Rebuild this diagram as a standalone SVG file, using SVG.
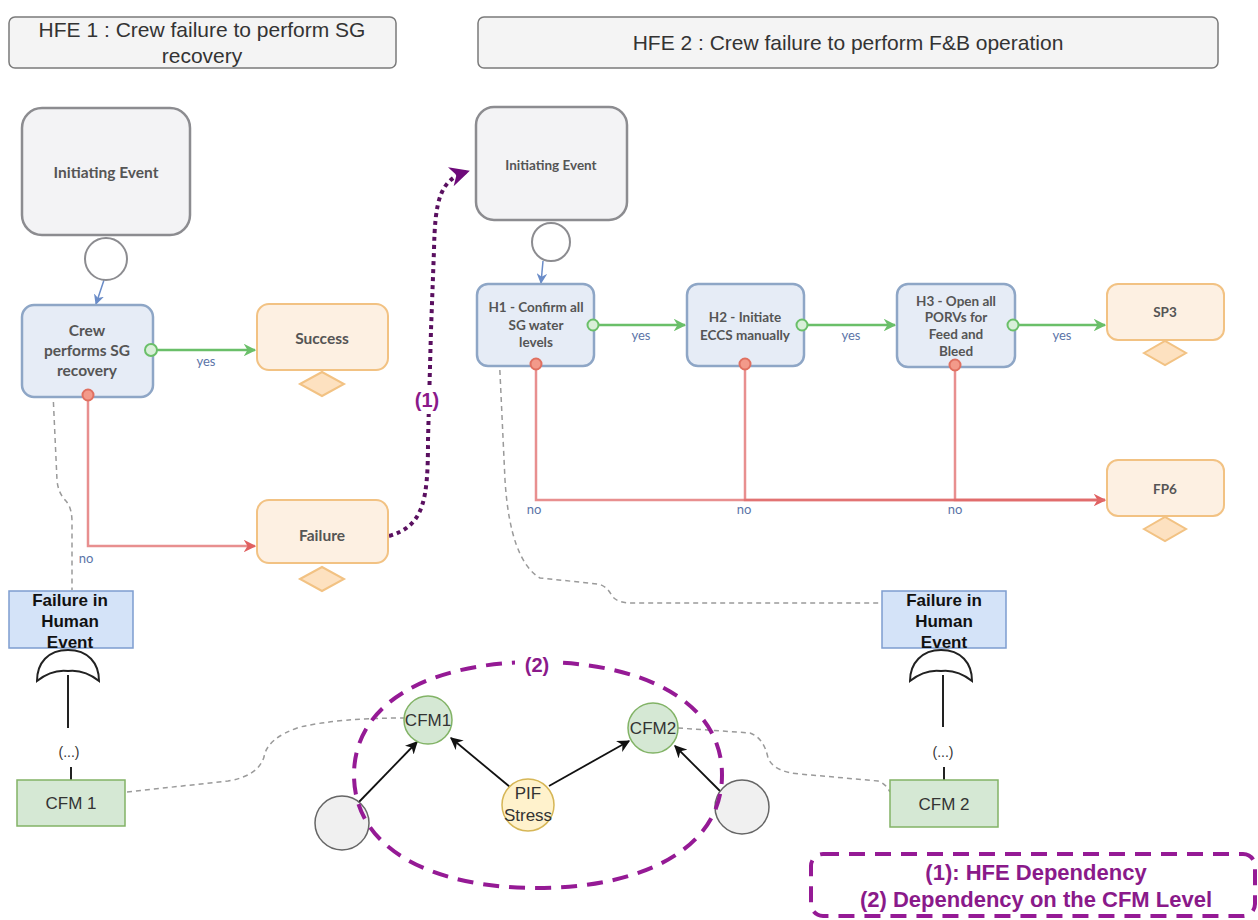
<svg xmlns="http://www.w3.org/2000/svg" width="1258" height="920" viewBox="0 0 1258 920">
  <style>
    .title { fill:#f4f4f4; stroke:#7a7a7a; stroke-width:1.5; }
    .title-t { font-family:"Liberation Sans", Arial, sans-serif; font-size:21px; fill:#333; text-anchor:middle; }
    .ie { fill:#f3f3f5; stroke:#8c8c90; stroke-width:2.5; }
    .task { fill:#e6ecf6; stroke:#8ea6c6; stroke-width:2.5; }
    .end { fill:#fdf0e2; stroke:#f2c283; stroke-width:2; }
    .dia { fill:#fde1c0; stroke:#f2c283; stroke-width:2; }
    .ring { fill:#fff; stroke:#8c8c90; stroke-width:2; }
    .et { font-family:Lato, "Open Sans", sans-serif; font-size:15.5px; font-weight:bold; fill:#555; text-anchor:middle; }
    .et13 { font-family:Lato, "Open Sans", sans-serif; font-size:13.5px; font-weight:bold; fill:#555; text-anchor:middle; }
    .lbl { font-family:Lato, "Open Sans", sans-serif; font-size:13px; fill:#5b74a8; text-anchor:middle; }
    .gport { fill:#d9efd9; stroke:#6abf69; stroke-width:2; }
    .rport { fill:#f39a8a; stroke:#e07060; stroke-width:2; }
    .yes { fill:none; stroke:#6abf69; stroke-width:2.5; }
    .no { fill:none; stroke:#e06a6a; stroke-width:2.5; stroke-opacity:0.75; }
    .blue { fill:none; stroke:#6a8cc8; stroke-width:1.5; }
    .link { fill:none; stroke:#9a9a9a; stroke-width:1.5; stroke-dasharray:5 4; }
    .he { fill:#d4e3f8; stroke:#7d9dd0; stroke-width:1.5; }
    .he-t { font-family:"Liberation Sans", Arial, sans-serif; font-size:17px; font-weight:bold; fill:#111; text-anchor:middle; }
    .gate { fill:#fff; stroke:#222; stroke-width:2; }
    .stem { fill:none; stroke:#222; stroke-width:2; }
    .cfm { fill:#d5e8d4; stroke:#82b366; stroke-width:1.5; }
    .pif { fill:#fff2cc; stroke:#d6b656; stroke-width:1.5; }
    .grey { fill:#f0f0f0; stroke:#666; stroke-width:1.5; }
    .ft { font-family:"Liberation Sans", Arial, sans-serif; font-size:17px; fill:#333; text-anchor:middle; }
    .dots { font-family:"Liberation Sans", Arial, sans-serif; font-size:14px; fill:#333; text-anchor:middle; }
    .bn { fill:none; stroke:#111; stroke-width:1.8; }
    .purple-t { font-family:"Liberation Sans", Arial, sans-serif; font-weight:bold; fill:#8a1a8a; text-anchor:middle; }
    .pdash { fill:none; stroke:#951a95; stroke-width:4; stroke-dasharray:16 10; }
  </style>
  <defs>
    <marker id="ah-green" viewBox="0 0 10 10" refX="9" refY="5" markerWidth="5" markerHeight="5" orient="auto" markerUnits="strokeWidth">
      <path d="M0,0 L10,5 L0,10 L3,5 Z" fill="#6abf69"/>
    </marker>
    <marker id="ah-red" viewBox="0 0 10 10" refX="9" refY="5" markerWidth="5" markerHeight="5" orient="auto" markerUnits="strokeWidth">
      <path d="M0,0 L10,5 L0,10 L3,5 Z" fill="#e06060"/>
    </marker>
    <marker id="ah-blue" viewBox="0 0 10 10" refX="9" refY="5" markerWidth="7" markerHeight="7" orient="auto" markerUnits="strokeWidth">
      <path d="M0,0 L10,5 L0,10 L3,5 Z" fill="#6a8cc8"/>
    </marker>
    <marker id="ah-black" viewBox="0 0 10 10" refX="9" refY="5" markerWidth="7" markerHeight="7" orient="auto" markerUnits="strokeWidth">
      <path d="M0,0 L10,5 L0,10 L3,5 Z" fill="#111"/>
    </marker>
    <marker id="ah-purple" viewBox="0 0 10 10" refX="8" refY="5" markerWidth="5" markerHeight="5" orient="auto" markerUnits="strokeWidth">
      <path d="M0,0 L10,5 L0,10 L3,5 Z" fill="#6e0a7a"/>
    </marker>
  </defs>

  <rect width="1258" height="920" fill="#fff"/>

  <!-- section headers -->
  <g id="hfe1-title">
    <rect class="title" x="9" y="17" width="387" height="51" rx="6"/>
    <text class="title-t" x="202" y="37">HFE 1 : Crew failure to perform SG</text>
    <text class="title-t" x="202" y="63">recovery</text>
  </g>
  <g id="hfe2-title">
    <rect class="title" x="478" y="17" width="740" height="51" rx="6"/>
    <text class="title-t" x="848" y="50">HFE 2 : Crew failure to perform F&amp;B operation</text>
  </g>

  <!-- connectors -->
  <g id="connectors">
    <!-- HFE 1 event tree -->
    <path class="blue" d="M104,280 L96,304" marker-end="url(#ah-blue)"/>
    <path class="yes" d="M151,350 H255" marker-end="url(#ah-green)"/>
    <path class="no" d="M88,395 V546 H255" marker-end="url(#ah-red)"/>
    <!-- HFE 2 event tree -->
    <path class="blue" d="M543,261 L541,283" marker-end="url(#ah-blue)"/>
    <path class="yes" d="M594,325 H685" marker-end="url(#ah-green)"/>
    <path class="yes" d="M803,325 H895" marker-end="url(#ah-green)"/>
    <path class="yes" d="M1014,325 H1105" marker-end="url(#ah-green)"/>
    <path class="no" d="M536,365 V500 H1105" marker-end="url(#ah-red)"/>
    <path class="no" d="M745,365 V500 H1105"/>
    <path class="no" d="M955,366 V500 H1105"/>
    <!-- links to fault trees -->
    <path class="link" d="M53,393 L57,480 Q58,493 66,501 Q72,508 72,522 L72,590"/>
    <path class="link" d="M499,352 L505,480 Q510,560 540,578 L598,584 Q607,586 612,596 Q617,603 632,603 L882,603"/>
    <path class="link" d="M127,792 L228,781 Q258,776 264,757 Q267,738 300,727 Q340,718 404,718"/>
    <path class="link" d="M678,728 L750,733 Q764,738 768,758 Q774,772 800,774 L878,781 Q886,784 890,792"/>
    <!-- fault tree stems -->
    <path class="stem" d="M68,675 V728"/>
    <path class="stem" d="M71,767 V780"/>
    <path class="stem" d="M943,675 V727"/>
    <path class="stem" d="M944,767 V780"/>
    <!-- BN arcs -->
    <path class="bn" d="M358,803 L417,742" marker-end="url(#ah-black)"/>
    <path class="bn" d="M510,787 L451,738" marker-end="url(#ah-black)"/>
    <path class="bn" d="M549,786 L629,741" marker-end="url(#ah-black)"/>
    <path class="bn" d="M721,792 L675,746" marker-end="url(#ah-black)"/>
    <!-- HFE dependency -->
    <path d="M389,536 C424,526 428,500 428,440 L431,330 L434,250 C435,200 440,180 466,172" fill="none" stroke="#5a1060" stroke-width="4" stroke-dasharray="4 4" marker-end="url(#ah-purple)"/>
  </g>

  <!-- HFE 1 event tree nodes -->
  <g id="ie1">
    <rect class="ie" x="22" y="108" width="168" height="127" rx="20"/>
    <text class="et" x="106" y="178">Initiating Event</text>
  </g>
  <g id="ie1-start"><circle class="ring" cx="106" cy="259" r="21"/></g>
  <g id="crew-sg">
    <rect class="task" x="22" y="305" width="131" height="92" rx="12"/>
    <text class="et" x="87" y="336">Crew</text>
    <text class="et" x="87" y="356">performs SG</text>
    <text class="et" x="87" y="376">recovery</text>
    <circle class="gport" cx="151" cy="350" r="6"/>
    <circle class="rport" cx="88" cy="395" r="5.5"/>
  </g>
  <g id="success">
    <rect class="end" x="257" y="304" width="131" height="66" rx="12"/>
    <text class="et" x="322" y="344">Success</text>
    <path class="dia" d="M300,384 L322,372 L344,384 L322,396 Z"/>
  </g>
  <g id="failure">
    <rect class="end" x="257" y="500" width="131" height="63" rx="12"/>
    <text class="et" x="322" y="541">Failure</text>
    <path class="dia" d="M300,579 L322,567 L344,579 L322,591 Z"/>
  </g>
  <text class="lbl" x="206" y="366">yes</text>
  <text class="lbl" x="86" y="563">no</text>

  <!-- HFE 2 event tree nodes -->
  <g id="ie2">
    <rect class="ie" x="476" y="107" width="151" height="113" rx="18"/>
    <text class="et13" x="551" y="170">Initiating Event</text>
  </g>
  <g id="ie2-start"><circle class="ring" cx="551" cy="242" r="19"/></g>
  <g id="h1">
    <rect class="task" x="477" y="284" width="117" height="82" rx="11"/>
    <text class="et13" x="536" y="312">H1 - Confirm all</text>
    <text class="et13" x="536" y="330">SG water</text>
    <text class="et13" x="536" y="347">levels</text>
    <circle class="gport" cx="593" cy="325" r="5.5"/>
    <circle class="rport" cx="536" cy="364" r="5.5"/>
  </g>
  <g id="h2">
    <rect class="task" x="687" y="284" width="117" height="82" rx="11"/>
    <text class="et13" x="745" y="322">H2 - Initiate</text>
    <text class="et13" x="745" y="340">ECCS manually</text>
    <circle class="gport" cx="802" cy="325" r="5.5"/>
    <circle class="rport" cx="745" cy="364" r="5.5"/>
  </g>
  <g id="h3">
    <rect class="task" x="897" y="284" width="118" height="83" rx="11"/>
    <text class="et13" x="956" y="306">H3 - Open all</text>
    <text class="et13" x="956" y="322">PORVs for</text>
    <text class="et13" x="956" y="339">Feed and</text>
    <text class="et13" x="956" y="356">Bleed</text>
    <circle class="gport" cx="1013" cy="325" r="5.5"/>
    <circle class="rport" cx="955" cy="365" r="5.5"/>
  </g>
  <g id="sp3">
    <rect class="end" x="1107" y="284" width="117" height="56" rx="11"/>
    <text class="et13" x="1165" y="317">SP3</text>
    <path class="dia" d="M1144,353 L1165,341 L1186,353 L1165,365 Z"/>
  </g>
  <g id="fp6">
    <rect class="end" x="1107" y="460" width="117" height="56" rx="11"/>
    <text class="et13" x="1165" y="494">FP6</text>
    <path class="dia" d="M1144,529 L1165,517 L1186,529 L1165,541 Z"/>
  </g>
  <text class="lbl" x="641" y="340">yes</text>
  <text class="lbl" x="851" y="340">yes</text>
  <text class="lbl" x="1062" y="340">yes</text>
  <text class="lbl" x="534" y="514">no</text>
  <text class="lbl" x="744" y="514">no</text>
  <text class="lbl" x="955" y="514">no</text>

  <!-- fault tree, HFE 1 -->
  <g id="he1">
    <rect class="he" x="9" y="591" width="124" height="57"/>
    <text class="he-t" x="70" y="606">Failure in</text>
    <text class="he-t" x="70" y="627">Human</text>
    <text class="he-t" x="70" y="648">Event</text>
  </g>
  <g id="or1">
    <path class="gate" d="M37,681 C37,663 48,650 68,650 C88,650 99,663 99,681 Q84,669 68,671 Q52,669 37,681 Z"/>
  </g>
  <text class="dots" x="69" y="757">(...)</text>
  <g id="cfm1-box">
    <rect class="cfm" x="17" y="780" width="108" height="46"/>
    <text class="ft" x="71" y="809">CFM 1</text>
  </g>

  <!-- fault tree, HFE 2 -->
  <g id="he2">
    <rect class="he" x="882" y="591" width="124" height="57"/>
    <text class="he-t" x="944" y="606">Failure in</text>
    <text class="he-t" x="944" y="627">Human</text>
    <text class="he-t" x="944" y="648">Event</text>
  </g>
  <g id="or2">
    <path class="gate" d="M910,681 C910,663 922,650 941,650 C961,650 972,663 972,681 Q957,669 941,671 Q925,669 910,681 Z"/>
  </g>
  <text class="dots" x="943" y="757">(...)</text>
  <g id="cfm2-box">
    <rect class="cfm" x="890" y="780" width="108" height="47"/>
    <text class="ft" x="944" y="810">CFM 2</text>
  </g>

  <!-- CFM-level Bayesian network -->
  <g id="bn-left"><circle class="grey" cx="342" cy="823" r="27"/></g>
  <g id="bn-right"><circle class="grey" cx="742" cy="807" r="27"/></g>
  <g id="cfm1">
    <circle class="cfm" cx="428" cy="720" r="24"/>
    <text class="ft" x="428" y="726">CFM1</text>
  </g>
  <g id="cfm2">
    <circle class="cfm" cx="653" cy="728" r="25"/>
    <text class="ft" x="653" y="734">CFM2</text>
  </g>
  <g id="pif-stress">
    <circle class="pif" cx="528" cy="805" r="26"/>
    <text class="ft" x="528" y="799">PIF</text>
    <text class="ft" x="528" y="821">Stress</text>
  </g>

  <!-- dependency highlights -->
  <g id="cfm-dependency">
    <path class="pdash" d="M537,662 C640,662 722,700 722,775 C722,850 640,888 537,888 C434,888 354,850 354,775 C354,700 434,662 537,662 Z"/>
    <rect x="515" y="650" width="44" height="28" fill="#fff"/>
    <text class="purple-t" x="537" y="672" font-size="20">(2)</text>
  </g>
  <g id="hfe-dependency-label">
    <rect x="413" y="386" width="30" height="28" fill="#fff"/>
    <text class="purple-t" x="427" y="407" font-size="20" fill="#6a1a6a">(1)</text>
  </g>

  <!-- legend -->
  <g id="legend">
    <rect class="pdash" x="811" y="854" width="444" height="62" rx="12"/>
    <text class="purple-t" x="1036" y="880" font-size="22">(1): HFE Dependency</text>
    <text class="purple-t" x="1036" y="907" font-size="22">(2) Dependency on the CFM Level</text>
  </g>
</svg>
